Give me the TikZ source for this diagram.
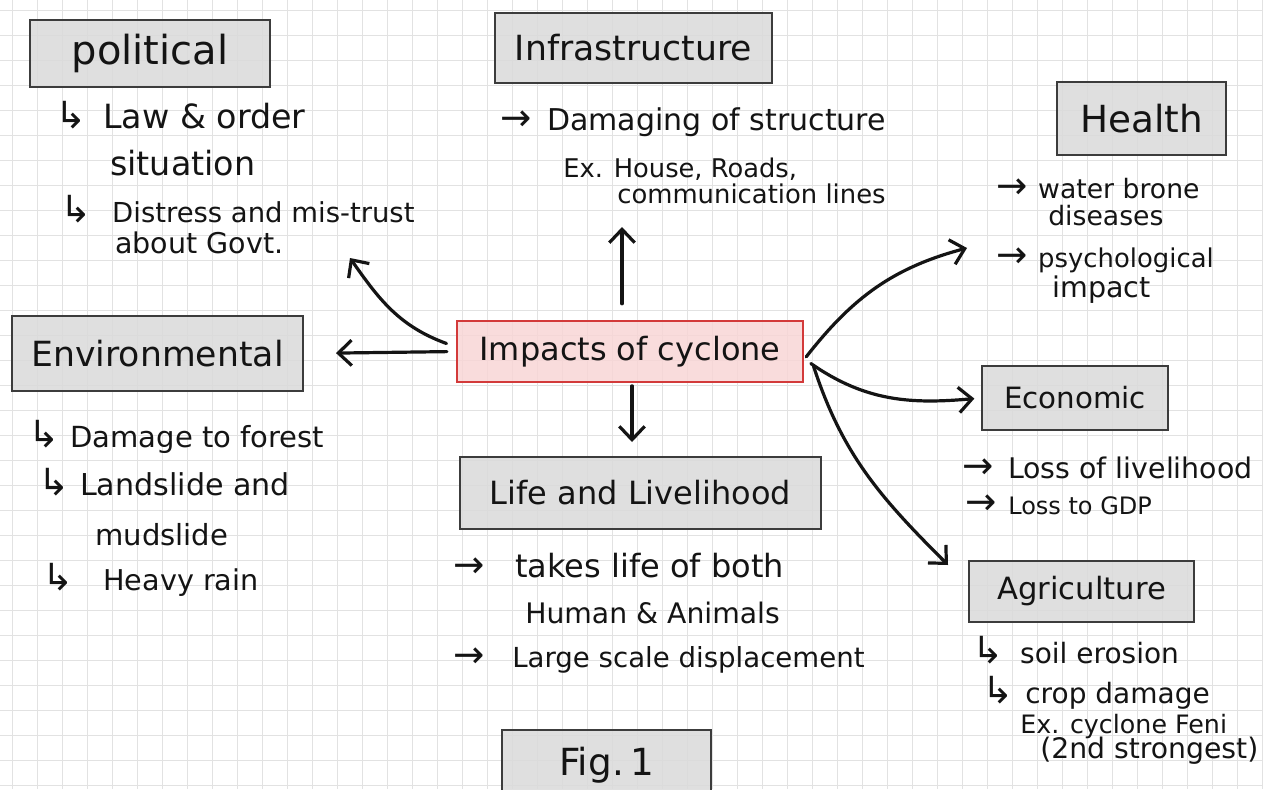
\documentclass[tikz,border=0pt]{standalone}
\usepackage{fontspec}
\setmainfont{DejaVu Sans}
\usetikzlibrary{arrows.meta}
\definecolor{gridc}{HTML}{E2E2E2}
\definecolor{boxfill}{HTML}{DADADA}
\definecolor{boxline}{HTML}{3C3C3C}
\definecolor{redline}{HTML}{D33A3A}
\definecolor{redfill}{HTML}{F8D6D6}
\definecolor{ink}{HTML}{141414}
\newcommand\myarr[2]{{\fontsize{28}{28}\selectfont #1}\hspace{#2}}
\tikzset{
  hdr/.style={draw=boxline, line width=1.5pt, fill=boxfill, fill opacity=0.85, text opacity=1, inner sep=0pt, text=ink},
  ctr/.style={draw=redline, line width=1.8pt, fill=redfill, fill opacity=0.85, text opacity=1, inner sep=0pt, text=ink},
  txt/.style={anchor=base west, inner sep=0pt, text=ink, font=\fontsize{#1}{#1}\selectfont},
  con/.style={draw=ink, line width=2.4pt, line cap=round, -{Straight Barb[length=10pt,width=19pt]}},
}
\begin{document}
\begin{tikzpicture}[x=0.75pt,y=-0.75pt]
\useasboundingbox (0,0) rectangle (1263,789);
\clip (0,0) rectangle (1263,789);
\fill[white] (0,0) rectangle (1263,789);
\foreach \i in {0,...,50} \draw[gridc, line width=0.7pt] (12+25*\i,0) -- (12+25*\i,789);
\foreach \j in {0,...,31} \draw[gridc, line width=0.7pt] (0,10+25*\j) -- (1263,10+25*\j);

% header boxes
\node[hdr, minimum width=180pt, minimum height=50.25pt, font=\fontsize{30}{30}\selectfont] (pol) at (150,53.5) {political};
\node[hdr, minimum width=207.75pt, minimum height=52.5pt, font=\fontsize{26}{26}\selectfont] (inf) at (633.5,48) {Infrastructure};
\node[hdr, minimum width=126.75pt, minimum height=54.75pt, font=\fontsize{28}{28}\selectfont] (hea) at (1141.5,118.5) {Health};
\node[hdr, minimum width=218.25pt, minimum height=56.25pt, font=\fontsize{26}{26}\selectfont] (env) at (157.5,353.5) {Environmental};
\node[ctr, minimum width=259.5pt, minimum height=45.75pt, font=\fontsize{24}{24}\selectfont] (imp) at (630,351.5) {Impacts of cyclone};
\node[hdr, minimum width=139.5pt, minimum height=48pt, font=\fontsize{22}{22}\selectfont] (eco) at (1075,398) {Economic};
\node[hdr, minimum width=270.75pt, minimum height=54pt, font=\fontsize{24}{24}\selectfont] (life) at (640.5,493) {Life and Livelihood};
\node[hdr, minimum width=168.75pt, minimum height=45.75pt, font=\fontsize{23}{23}\selectfont] (agr) at (1081.5,591.5) {Agriculture};
\node[hdr, minimum width=156.75pt, minimum height=52.5pt, font=\fontsize{28}{28}\selectfont] (fig) at (606.5,765) {Fig.\,1};

% political
\node[txt=25] (pol1) at (55,128) {\myarr{↳}{12.5pt}Law \& order};
\node[txt=25] (pol2) at (110,175) {situation};
\node[txt=20.6] (pol3) at (60,222) {\myarr{↳}{15.5pt}Distress and mis-trust};
\node[txt=21.4] (pol4) at (115,253) {about Govt.};
% infrastructure
\node[txt=22.5] (inf1) at (500,130) {\myarr{→}{11.8pt}Damaging of structure};
\node[txt=19.3] (inf2) at (563,177) {Ex. House, Roads,};
\node[txt=19.4] (inf3) at (617,203) {communication lines};
% health
\node[txt=20] (hea1) at (996,198) {\myarr{→}{8pt}water brone};
\node[txt=20] (hea2) at (1048,225) {diseases};
\node[txt=19.4] (hea3) at (996,267) {\myarr{→}{8pt}psychological};
\node[txt=21.4] (hea4) at (1052,297) {impact};
% environmental
\node[txt=21.8] (env1) at (28,447) {\myarr{↳}{8pt}Damage to forest};
\node[txt=22.6] (env2) at (38,495) {\myarr{↳}{8pt}Landslide and};
\node[txt=21.8] (env3) at (95,545) {mudslide};
\node[txt=21.5] (env4) at (42,590) {\myarr{↳}{22.3pt}Heavy rain};
% economic
\node[txt=21.3] (eco1) at (962,478) {\myarr{→}{11pt}Loss of livelihood};
\node[txt=18] (eco2) at (965,514) {\myarr{→}{8.8pt}Loss to GDP};
% life
\node[txt=24] (life1) at (453,577) {\myarr{→}{23pt}takes life of both};
\node[txt=21.2] (life2) at (525,623) {Human \& Animals};
\node[txt=20.7] (life3) at (453,667) {\myarr{→}{20.8pt}Large scale displacement};
% agriculture
\node[txt=21] (agr1) at (972,663) {\myarr{↳}{12.5pt}soil erosion};
\node[txt=21] (agr2) at (982,703) {\myarr{↳}{8.8pt}crop damage};
\node[txt=19] (agr3) at (1020,733) {Ex. cyclone Feni};
\node[txt=21.2] (agr4) at (1040,758) {(2nd strongest)};

% connectors
\coordinate (upE) at (622,227);
\coordinate (dnE) at (632,442);
\coordinate (polE) at (350,258);
\coordinate (heaE) at (967,248);
\coordinate (agrE) at (948,565);
\draw[con, shorten <=12pt] (imp.north -| upE) -- (upE);
\draw[con, shorten <=2pt] (imp.south -| dnE) -- (dnE);
\draw[con, shorten <=6.75pt, shorten >=24pt] (imp.west) -- (env.east);
\draw[con] ([xshift=-7pt,yshift=6pt]imp.west) to[out=160,in=-55] (polE);
\draw[con] ([xshift=1.5pt,yshift=-4pt]imp.east) to[out=52,in=195] (heaE);
\draw[con, shorten >=5pt] ([xshift=5pt,yshift=-9pt]imp.east) to[out=-35,in=185] (eco.west);
\draw[con] ([xshift=7pt,yshift=-11pt]imp.east) to[out=-72,in=135] (agrE);
\end{tikzpicture}
\end{document}
